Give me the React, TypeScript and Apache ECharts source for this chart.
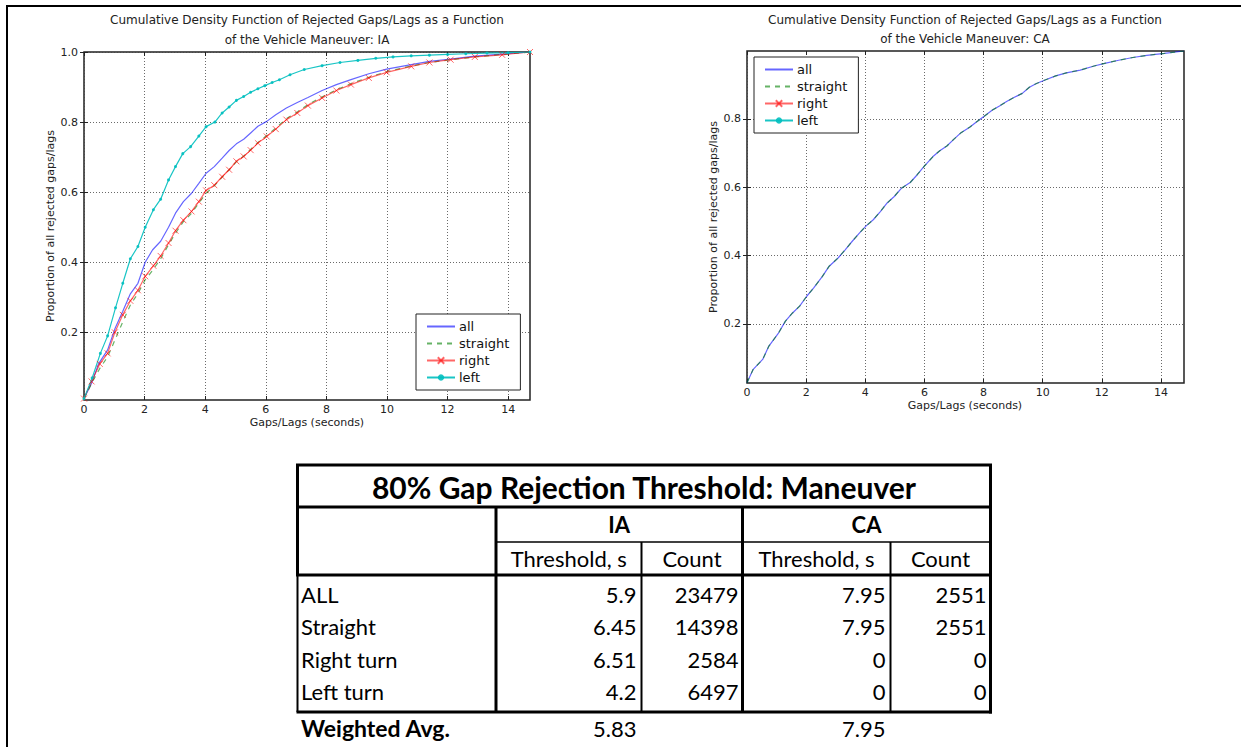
import React, { useEffect, useRef } from "react";
import * as echarts from "echarts";

// ---------- Chart data ----------
const iaAll: [number, number][] = [
  [0, 0.011], [0.25, 0.055], [0.48, 0.11], [0.78, 0.15], [1.02, 0.21], [1.28, 0.26], [1.53, 0.31],
  [1.78, 0.34], [2.02, 0.4], [2.26, 0.435], [2.53, 0.46], [2.79, 0.5], [3.02, 0.54], [3.28, 0.573],
  [3.55, 0.597], [3.79, 0.625], [4.03, 0.654], [4.3, 0.673], [4.56, 0.697], [4.79, 0.719], [5.03, 0.738],
  [5.27, 0.751], [5.5, 0.769], [5.74, 0.788], [6.03, 0.802], [6.33, 0.821], [6.68, 0.84], [7.04, 0.856],
  [7.39, 0.87], [7.86, 0.89], [8.33, 0.907], [8.81, 0.921], [9.4, 0.938], [9.99, 0.951], [10.8, 0.964],
  [11.4, 0.973], [12.1, 0.98], [12.9, 0.988], [13.8, 0.994], [14.72, 1.0],
];
const iaStraight: [number, number][] = [
  [0, 0.011], [0.31, 0.064], [0.54, 0.1], [0.78, 0.13], [1.02, 0.178], [1.28, 0.23], [1.53, 0.278],
  [1.78, 0.311], [2.02, 0.35], [2.29, 0.38], [2.53, 0.41], [2.79, 0.45], [3.02, 0.483], [3.28, 0.516],
  [3.55, 0.54], [3.79, 0.569], [4.03, 0.597], [4.3, 0.618], [4.56, 0.643], [4.79, 0.664], [5.03, 0.687],
  [5.27, 0.703], [5.5, 0.722], [5.74, 0.742], [6.03, 0.762], [6.33, 0.783], [6.68, 0.81], [7.04, 0.829],
  [7.39, 0.85], [7.86, 0.872], [8.33, 0.892], [8.81, 0.91], [9.4, 0.928], [9.99, 0.944], [10.8, 0.96],
  [11.4, 0.97], [12.1, 0.978], [12.9, 0.986], [13.8, 0.993], [14.72, 1.0],
];
const iaRight: [number, number][] = [
  [0, 0.011], [0.25, 0.06], [0.52, 0.11], [0.78, 0.14], [1.02, 0.2], [1.28, 0.25], [1.53, 0.29],
  [1.78, 0.32], [2.02, 0.36], [2.29, 0.39], [2.53, 0.418], [2.79, 0.455], [3.02, 0.49], [3.28, 0.52],
  [3.55, 0.545], [3.79, 0.573], [4.03, 0.605], [4.3, 0.62], [4.56, 0.644], [4.79, 0.664], [5.03, 0.688],
  [5.27, 0.702], [5.5, 0.72], [5.74, 0.74], [6.03, 0.759], [6.33, 0.78], [6.68, 0.807], [7.04, 0.826],
  [7.39, 0.847], [7.86, 0.869], [8.33, 0.89], [8.81, 0.907], [9.4, 0.926], [9.99, 0.942], [10.8, 0.959],
  [11.4, 0.97], [12.1, 0.978], [12.9, 0.986], [13.8, 0.992], [14.72, 1.0],
];
const iaLeft: [number, number][] = [
  [0, 0.011], [0.27, 0.07], [0.54, 0.14], [0.78, 0.19], [1.04, 0.27], [1.28, 0.34], [1.53, 0.41],
  [1.78, 0.445], [2.02, 0.5], [2.29, 0.55], [2.53, 0.58], [2.79, 0.635], [3.02, 0.673], [3.26, 0.71],
  [3.52, 0.73], [3.79, 0.76], [4.03, 0.787], [4.32, 0.8], [4.56, 0.826], [4.79, 0.843], [5.03, 0.862],
  [5.27, 0.873], [5.5, 0.885], [5.74, 0.895], [5.97, 0.904], [6.21, 0.913], [6.45, 0.921], [6.8, 0.935],
  [7.27, 0.95], [7.86, 0.961], [8.45, 0.97], [9.04, 0.976], [9.63, 0.982], [10.2, 0.986], [10.8, 0.989],
  [11.4, 0.991], [12.0, 0.993], [12.6, 0.995], [13.3, 0.997], [14.0, 0.998], [14.72, 1.0],
];
const caAll: [number, number][] = [
  [0, 0.028], [0.21, 0.067], [0.53, 0.096], [0.74, 0.135], [1.07, 0.174], [1.3, 0.208], [1.54, 0.232],
  [1.78, 0.252], [2.02, 0.281], [2.25, 0.305], [2.55, 0.339], [2.78, 0.369], [3.08, 0.393], [3.32, 0.417],
  [3.56, 0.442], [3.8, 0.466], [4.03, 0.487], [4.27, 0.505], [4.51, 0.529], [4.74, 0.554], [4.98, 0.573],
  [5.22, 0.597], [5.52, 0.614], [5.75, 0.636], [5.99, 0.661], [6.29, 0.69], [6.52, 0.707], [6.76, 0.721],
  [7.0, 0.741], [7.24, 0.76], [7.53, 0.776], [7.77, 0.792], [8.01, 0.807], [8.3, 0.826], [8.54, 0.838],
  [8.78, 0.851], [9.01, 0.862], [9.31, 0.875], [9.55, 0.893], [9.79, 0.904], [10.08, 0.914], [10.44, 0.926],
  [10.8, 0.935], [11.27, 0.943], [11.74, 0.955], [12.1, 0.963], [12.57, 0.972], [13.05, 0.98], [13.52, 0.986],
  [14.12, 0.992], [14.78, 0.999],
];
const caStraight: [number, number][] = caAll.map((p) => [p[0], p[1]]);
const caRight: [number, number][] = [];
const caLeft: [number, number][] = [];

const xTicks = [0, 2, 4, 6, 8, 10, 12, 14];
const iaYTicks = [0.2, 0.4, 0.6, 0.8, 1.0];
const caYTicks = [0.2, 0.4, 0.6, 0.8];
const seriesNames = ["all", "straight", "right", "left"];

// ---------- Table data ----------
const tableTitle = "80% Gap Rejection Threshold: Maneuver";
const groupHeaders = ["IA", "CA"];
const subHeaders = ["Threshold, s", "Count", "Threshold, s", "Count"];
const rowLabels = ["ALL", "Straight", "Right turn", "Left turn"];
const iaThreshold = [5.9, 6.45, 6.51, 4.2];
const iaCount = [23479, 14398, 2584, 6497];
const caThreshold = [7.95, 7.95, 0, 0];
const caCount = [2551, 2551, 0, 0];
const weightedLabel = "Weighted Avg.";
const weightedAvg = [5.83, 7.95];

const titleIA = ["Cumulative Density Function of Rejected Gaps/Lags as a Function", "of the Vehicle Maneuver: IA"];
const titleCA = ["Cumulative Density Function of Rejected Gaps/Lags as a Function", "of the Vehicle Maneuver: CA"];
const xName = "Gaps/Lags (seconds)";
const yName = "Proportion of all rejected gaps/lags";

const FONT = "'DejaVu Sans', sans-serif";
const TFONT = "Lato, 'Open Sans', sans-serif";

const C_BLUE = "rgba(0,0,255,0.6)";
const C_GREEN = "rgba(0,128,0,0.6)";
const C_RED = "rgba(255,0,0,0.6)";
const C_CYAN = "rgba(0,191,191,0.9)";
const X_SYMBOL = "path://M0,0L10,10M10,0L0,10";

function xAxisCfg(gridIndex: number, max: number) {
  return {
    type: "value",
    gridIndex,
    min: 0,
    max,
    interval: 2,
    axisLine: { show: false },
    axisTick: { show: true, inside: true, length: 4, customValues: xTicks, lineStyle: { color: "#222" } },
    axisLabel: { margin: 4, fontSize: 11, color: "#222", fontFamily: FONT, customValues: xTicks },
    splitLine: { show: true, lineStyle: { color: "#444", width: 0.8, type: [1, 2] } },
  };
}
function xAxisTopCfg(gridIndex: number, max: number) {
  return {
    type: "value",
    gridIndex,
    position: "top",
    min: 0,
    max,
    interval: 2,
    axisLine: { show: false },
    axisTick: { show: true, inside: true, length: 4, customValues: xTicks, lineStyle: { color: "#222" } },
    axisLabel: { show: false },
    splitLine: { show: false },
  };
}

function yAxisCfg(gridIndex: number, min: number, max: number, ticks: number[]) {
  return {
    type: "value",
    gridIndex,
    min,
    max,
    axisLine: { show: false },
    axisTick: { show: true, inside: true, length: 4, customValues: ticks, lineStyle: { color: "#222" } },
    axisLabel: {
      margin: 6,
      fontSize: 11,
      color: "#222",
      fontFamily: FONT,
      customValues: ticks,
      formatter: (v: number) => v.toFixed(1),
    },
    splitLine: { show: true, lineStyle: { color: "#444", width: 0.8, type: [1, 2] } },
  };
}
function yAxisRightCfg(gridIndex: number, min: number, max: number, ticks: number[]) {
  return {
    type: "value",
    gridIndex,
    position: "right",
    min,
    max,
    axisLine: { show: false },
    axisTick: { show: true, inside: true, length: 4, customValues: ticks, lineStyle: { color: "#222" } },
    axisLabel: { show: false },
    splitLine: { show: false },
  };
}

function seriesSet(idx: number, all: any[], straight: any[], right: any[], left: any[]) {
  return [
    {
      name: "all", type: "line", xAxisIndex: idx, yAxisIndex: idx, data: all, symbol: "none",
      lineStyle: { color: C_BLUE, width: 1.2 }, itemStyle: { color: C_BLUE },
    },
    {
      name: "straight", type: "line", xAxisIndex: idx, yAxisIndex: idx, data: straight, symbol: "none",
      lineStyle: { color: C_GREEN, width: 1.2, type: [5, 5] }, itemStyle: { color: C_GREEN },
    },
    {
      name: "right", type: "line", xAxisIndex: idx, yAxisIndex: idx, data: right, symbol: X_SYMBOL, symbolSize: 6,
      lineStyle: { color: C_RED, width: 1.2 }, itemStyle: { color: C_RED, borderColor: C_RED, borderWidth: 1 },
    },
    {
      name: "left", type: "line", xAxisIndex: idx, yAxisIndex: idx, data: left, symbol: "circle", symbolSize: 3,
      lineStyle: { color: C_CYAN, width: 1.2 }, itemStyle: { color: C_CYAN },
    },
  ];
}

const hiddenSymbol = { color: "rgba(0,0,0,0)", borderColor: "rgba(0,0,0,0)", borderWidth: 0 };

function legendCfg(left: number, top: number) {
  return {
    left,
    top,
    orient: "vertical",
    data: [
      { name: seriesNames[0], itemStyle: hiddenSymbol },
      { name: seriesNames[1], itemStyle: hiddenSymbol },
      { name: seriesNames[2] },
      { name: seriesNames[3] },
    ],
    selectedMode: false,
    backgroundColor: "#fff",
    borderColor: "#222",
    borderWidth: 1,
    borderRadius: 0,
    padding: [6, 11, 6, 10],
    itemWidth: 28,
    itemHeight: 8,
    itemGap: 4,
    textStyle: { fontSize: 13, color: "#111", fontFamily: FONT, padding: [0, 0, 0, -1] },
  };
}

function hline(x1: number, x2: number, y: number, w: number) {
  return { type: "line", shape: { x1, y1: y, x2, y2: y }, style: { stroke: "#000", lineWidth: w }, silent: true };
}
function vline(x: number, y1: number, y2: number, w: number) {
  return { type: "line", shape: { x1: x, y1, x2: x, y2 }, style: { stroke: "#000", lineWidth: w }, silent: true };
}
function txt(text: string, x: number, y: number, size: number, align: string, opts: any = {}) {
  return {
    type: "text",
    x,
    y,
    silent: true,
    rotation: opts.rotation || 0,
    style: {
      text,
      fontSize: size,
      fontFamily: opts.font || FONT,
      fontWeight: opts.bold ? "bold" : "normal",
      fill: opts.color || "#000",
      align,
      verticalAlign: "middle",
    },
  };
}

function buildGraphics() {
  const g: any[] = [];
  // outer page frame
  g.push(hline(6, 1241, 6, 2));
  g.push(vline(7, 6, 747, 2));

  // chart titles and axis names
  g.push(txt(titleIA[0], 307, 20, 12, "center", { color: "#222" }));
  g.push(txt(titleIA[1], 307, 40, 12, "center", { color: "#222" }));
  g.push(txt(titleCA[0], 965, 20, 12, "center", { color: "#222" }));
  g.push(txt(titleCA[1], 965, 39, 12, "center", { color: "#222" }));
  g.push(txt(xName, 307, 422, 11, "center", { color: "#222" }));
  g.push(txt(xName, 965, 405, 11, "center", { color: "#222" }));
  g.push(txt(yName, 50, 226, 11, "center", { color: "#222", rotation: Math.PI / 2 }));
  g.push(txt(yName, 713, 217, 11, "center", { color: "#222", rotation: Math.PI / 2 }));

  // table geometry
  const L = 297.5, R = 990.5;
  const colA = 496, colB = 641.5, colC = 742.5, colD = 890.5;
  const yTitleTop = 465, yTitleBot = 507, yMid = 542, yHeadBot = 575, yDataBot = 712;
  g.push({
    type: "rect",
    shape: { x: L, y: yTitleTop, width: R - L, height: yTitleBot - yTitleTop },
    style: { fill: "none", stroke: "#000", lineWidth: 3 },
    silent: true,
  });
  g.push(vline(L, yTitleBot, yHeadBot, 3));
  g.push(vline(L, yHeadBot, yDataBot, 2));
  g.push(vline(R, yTitleBot, yDataBot + 1.5, 3));
  g.push(hline(L - 1.5, R + 1.5, yHeadBot, 3));
  g.push(hline(L - 1, R + 1.5, yDataBot, 3));
  g.push(vline(colA, yTitleBot, yDataBot, 3));
  g.push(vline(colC, yTitleBot, yDataBot, 3));
  g.push(hline(colA, R, yMid, 1.5));
  g.push(vline(colB, yMid, yDataBot, 2));
  g.push(vline(colD, yMid, yDataBot, 2));

  g.push(txt(tableTitle, (L + R) / 2, 487, 30, "center", { font: TFONT, bold: true }));
  g.push(txt(groupHeaders[0], (colA + colC) / 2, 524, 22, "center", { font: TFONT, bold: true }));
  g.push(txt(groupHeaders[1], (colC + R) / 2, 524, 22, "center", { font: TFONT, bold: true }));
  const subCenters = [(colA + colB) / 2, (colB + colC) / 2, (colC + colD) / 2, (colD + R) / 2];
  subHeaders.forEach((s, i) => g.push(txt(s, subCenters[i], 558, 22, "center", { font: TFONT })));

  const rowY = [594, 626, 659, 691];
  rowLabels.forEach((lab, i) => {
    g.push(txt(lab, 301, rowY[i], 22, "left", { font: TFONT }));
    g.push(txt(String(iaThreshold[i]), colB - 5, rowY[i], 22, "right", { font: TFONT }));
    g.push(txt(String(iaCount[i]), colC - 4, rowY[i], 22, "right", { font: TFONT }));
    g.push(txt(String(caThreshold[i]), colD - 5, rowY[i], 22, "right", { font: TFONT }));
    g.push(txt(String(caCount[i]), R - 4, rowY[i], 22, "right", { font: TFONT }));
  });
  g.push(txt(weightedLabel, 301, 728, 23, "left", { font: TFONT, bold: true }));
  g.push(txt(String(weightedAvg[0]), colB - 5, 728, 22, "right", { font: TFONT }));
  g.push(txt(String(weightedAvg[1]), colD - 5, 728, 22, "right", { font: TFONT }));
  return g;
}

export default function App() {
  const ref = useRef<HTMLDivElement>(null);
  useEffect(() => {
    document.body.style.margin = "0";
    if (!ref.current) return;
    const chart = echarts.init(ref.current, undefined, { renderer: "svg" });
    chart.setOption({
      animation: false,
      backgroundColor: "#fff",
      grid: [
        { left: 84, top: 52, width: 446, height: 348, show: true, borderColor: "#222", borderWidth: 1.5 },
        { left: 747, top: 51, width: 437, height: 332, show: true, borderColor: "#222", borderWidth: 1.5 },
      ],
      xAxis: [xAxisCfg(0, 14.72), xAxisCfg(1, 14.78), xAxisTopCfg(0, 14.72), xAxisTopCfg(1, 14.78)],
      yAxis: [
        yAxisCfg(0, 0.007, 1.0, iaYTicks),
        yAxisCfg(1, 0.027, 0.999, caYTicks),
        yAxisRightCfg(0, 0.007, 1.0, iaYTicks),
        yAxisRightCfg(1, 0.027, 0.999, caYTicks),
      ],
      legend: [legendCfg(416, 314), legendCfg(754, 57)],
      series: [
        ...seriesSet(0, iaAll, iaStraight, iaRight, iaLeft),
        ...seriesSet(1, caAll, caStraight, caRight, caLeft),
      ],
      graphic: buildGraphics(),
    });
    return () => chart.dispose();
  }, []);
  return <div ref={ref} style={{ width: 1241, height: 747 }} />;
}
